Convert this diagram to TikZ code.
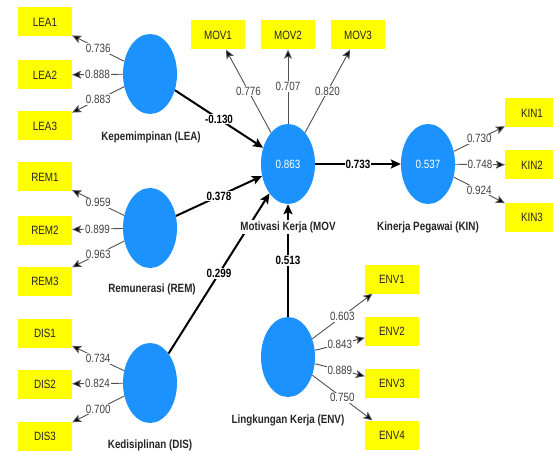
\documentclass[tikz,border=0pt]{standalone}
\usepackage{fontspec}
\setmainfont{Liberation Sans}[FakeStretch=0.82]
\usetikzlibrary{shapes.geometric,arrows.meta}
\definecolor{lvblue}{RGB}{28,146,255}
\definecolor{indyellow}{RGB}{255,255,0}
\definecolor{loadgray}{RGB}{80,80,80}
\begin{document}
\begin{tikzpicture}[x=1pt,y=-1pt,
  lv/.style={ellipse, fill=lvblue, minimum width=54pt, minimum height=80pt, inner sep=0pt, text=white, font=\fontsize{12}{14}\selectfont},
  ind/.style={fill=indyellow, minimum width=54pt, minimum height=29pt, inner sep=0pt, text=black!85, font=\fontsize{12}{14}\selectfont},
  load/.style={draw=loadgray, line width=0.9pt, -{Stealth[length=9pt,width=8pt,inset=2pt,fill=black]}},
  path/.style={draw=black, line width=2pt, -{Stealth[length=10pt,width=9pt,inset=2pt]}},
  lval/.style={fill=white, inner sep=1pt, text=black!75, font=\fontsize{12}{14}\selectfont},
  pval/.style={fill=white, inner sep=1pt, text=black, font=\bfseries\fontsize{12}{14}\selectfont},
  cname/.style={fill=white, inner sep=1pt, text=black!85, font=\bfseries\fontsize{12}{14}\selectfont}
]
\useasboundingbox (0,0) rectangle (553,454);

% latent variables
\node[lv] (LEA) at (150,74) {};
\node[lv] (REM) at (150,228) {};
\node[lv] (DIS) at (150,383) {};
\node[lv] (MOV) at (288,164) {0.863};
\node[lv] (KIN) at (428,164) {0.537};
\node[lv] (ENV) at (288,357) {};

% indicators
\node[ind] (LEA1) at (45,22) {LEA1};
\node[ind] (LEA2) at (45,75) {LEA2};
\node[ind] (LEA3) at (45,126) {LEA3};
\node[ind] (REM1) at (45,177) {REM1};
\node[ind] (REM2) at (45,230) {REM2};
\node[ind] (REM3) at (45,281) {REM3};
\node[ind] (DIS1) at (45,333) {DIS1};
\node[ind] (DIS2) at (45,384) {DIS2};
\node[ind] (DIS3) at (45,436) {DIS3};
\node[ind] (MOV1) at (218,35) {MOV1};
\node[ind] (MOV2) at (288,35) {MOV2};
\node[ind] (MOV3) at (358,35) {MOV3};
\node[ind] (KIN1) at (532,113) {KIN1};
\node[ind] (KIN2) at (532,165) {KIN2};
\node[ind] (KIN3) at (532,217) {KIN3};
\node[ind] (ENV1) at (392,279) {ENV1};
\node[ind] (ENV2) at (392,331) {ENV2};
\node[ind] (ENV3) at (392,383) {ENV3};
\node[ind] (ENV4) at (392,435) {ENV4};

% loadings
\draw[load] (LEA) -- node[lval]{0.736} (LEA1);
\draw[load] (LEA) -- node[lval]{0.888} (LEA2);
\draw[load] (LEA) -- node[lval]{0.883} (LEA3);
\draw[load] (REM) -- node[lval]{0.959} (REM1);
\draw[load] (REM) -- node[lval]{0.899} (REM2);
\draw[load] (REM) -- node[lval]{0.963} (REM3);
\draw[load] (DIS) -- node[lval]{0.734} (DIS1);
\draw[load] (DIS) -- node[lval]{0.824} (DIS2);
\draw[load] (DIS) -- node[lval]{0.700} (DIS3);
\draw[load] (MOV) -- node[lval]{0.776} (MOV1);
\draw[load] (MOV) -- node[lval]{0.707} (MOV2);
\draw[load] (MOV) -- node[lval]{0.820} (MOV3);
\draw[load] (KIN) -- node[lval]{0.730} (KIN1);
\draw[load] (KIN) -- node[lval]{0.748} (KIN2);
\draw[load] (KIN) -- node[lval]{0.924} (KIN3);
\draw[load] (ENV) -- node[lval]{0.603} (ENV1);
\draw[load] (ENV) -- node[lval]{0.843} (ENV2);
\draw[load] (ENV) -- node[lval]{0.889} (ENV3);
\draw[load] (ENV) -- node[lval]{0.750} (ENV4);

% structural paths
\draw[path] (LEA) -- node[pval]{-0.130} (MOV);
\draw[path] (REM) -- node[pval]{0.378} (MOV);
\draw[path] (DIS) -- node[pval]{0.299} (MOV);
\draw[path] (ENV) -- node[pval]{0.513} (MOV);
\draw[path] (MOV) -- node[pval]{0.733} (KIN);

% construct names
\node[cname] (nLEA) at (151,137) {Kepemimpinan (LEA)};
\node[cname] (nREM) at (152,289) {Remunerasi (REM)};
\node[cname] (nDIS) at (150,445) {Kedisiplinan (DIS)};
\node[cname] (nMOV) at (288,227) {Motivasi Kerja (MOV};
\node[cname] (nKIN) at (428,227) {Kinerja Pegawai (KIN)};
\node[cname] (nENV) at (288,420) {Lingkungan Kerja (ENV)};
\end{tikzpicture}
\end{document}
